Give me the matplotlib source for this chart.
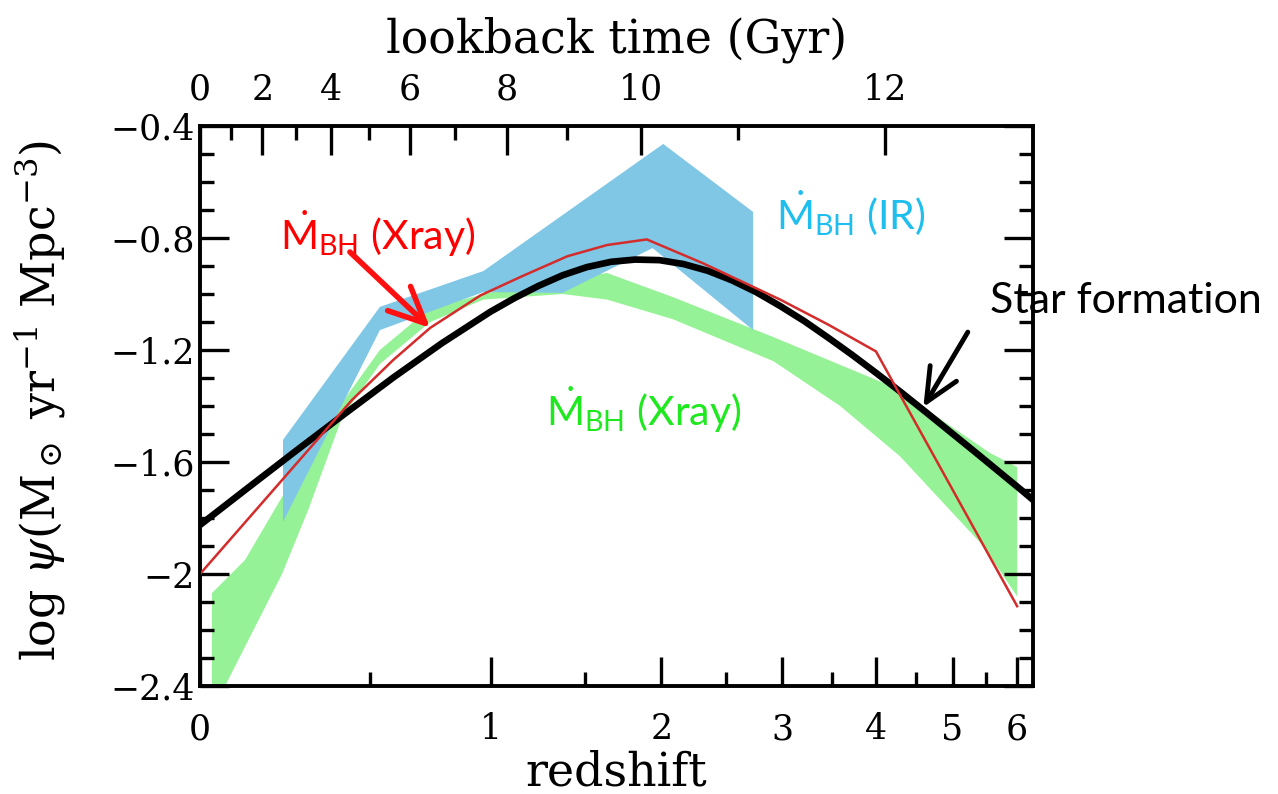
import numpy as np
import matplotlib.pyplot as plt
from matplotlib.ticker import FixedLocator, MultipleLocator

plt.rcParams['font.family'] = ['DejaVu Serif']
plt.rcParams['mathtext.fontset'] = 'custom'
plt.rcParams['mathtext.rm'] = 'DejaVu Serif'
plt.rcParams['mathtext.it'] = 'DejaVu Serif:italic'
plt.rcParams['mathtext.bf'] = 'DejaVu Serif:bold'
plt.rcParams['mathtext.sf'] = 'Lato'

# all x values are log10(1+z)
# cosmic star formation rate density
sf_x = [0.0, 0.05, 0.1, 0.15, 0.2, 0.25, 0.3, 0.325, 0.35, 0.375, 0.4, 0.425,
        0.45, 0.475, 0.5, 0.525, 0.55, 0.575, 0.6, 0.625, 0.65, 0.675, 0.7,
        0.725, 0.75, 0.775, 0.8, 0.825, 0.85, 0.862]
sf_y = [-1.825, -1.691, -1.558, -1.427, -1.298, -1.176, -1.064, -1.015, -0.971,
        -0.933, -0.904, -0.885, -0.877, -0.879, -0.893, -0.917, -0.951, -0.993,
        -1.043, -1.097, -1.157, -1.219, -1.284, -1.351, -1.420, -1.490, -1.560,
        -1.631, -1.702, -1.737]

# BH accretion rate, X-ray (line)
xr_x = [0.0, 0.157, 0.20, 0.238, 0.29, 0.334, 0.38, 0.421, 0.462, 0.52, 0.60,
        0.65, 0.699, 0.845]
xr_y = [-2.0, -1.379, -1.235, -1.121, -1.005, -0.935, -0.865, -0.825, -0.805,
        -0.89, -1.02, -1.11, -1.205, -2.115]

# BH accretion rate, IR (band)
ir_up_x = [0.0858, 0.186, 0.293, 0.479, 0.572]
ir_up_y = [-1.521, -1.046, -0.918, -0.464, -0.707]
ir_lo_x = [0.0858, 0.186, 0.293, 0.375, 0.468, 0.572]
ir_lo_y = [-1.814, -1.129, -0.993, -0.996, -0.836, -1.129]

# BH accretion rate, X-ray (band)
xb_up_x = [0.0124, 0.0465, 0.0848, 0.134, 0.186, 0.238, 0.310, 0.372, 0.421,
           0.489, 0.593, 0.717, 0.817, 0.845]
xb_up_y = [-2.068, -1.950, -1.725, -1.450, -1.200, -1.050, -0.986, -0.950,
           -0.925, -1.011, -1.154, -1.332, -1.568, -1.618]
xb_lo_x = [0.0124, 0.0259, 0.0538, 0.0848, 0.112, 0.147, 0.186, 0.238, 0.293,
           0.375, 0.421, 0.489, 0.593, 0.662, 0.724, 0.810, 0.845]
xb_lo_y = [-2.47, -2.40, -2.21, -2.00, -1.77, -1.44, -1.25, -1.10, -1.02,
           -1.00, -1.02, -1.09, -1.24, -1.40, -1.58, -1.90, -2.08]

z_major = [0, 1, 2, 3, 4, 5, 6]
z_minor = [0.5, 1.5, 2.5, 3.5, 4.5, 5.5]
t_major = [0, 2, 4, 6, 8, 10, 12]
t_minor = [1, 3, 5, 7, 9, 11]
y_ticks = [-2.4, -2.0, -1.6, -1.2, -0.8, -0.4]
y_labels = ['\u22122.4', '\u22122', '\u22121.6', '\u22121.2', '\u22120.8', '\u22120.4']


# lookback time (Gyr) -> log10(1+z), flat LCDM with H0=70, Om=0.3
def t_to_pos(t):
    zg = np.linspace(0, 30, 30001)
    f = 1.0 / ((1 + zg) * np.sqrt(0.3 * (1 + zg)**3 + 0.7))
    tl = np.concatenate(([0], np.cumsum(0.5 * (f[1:] + f[:-1]) * np.diff(zg))))
    tl = tl * 977.8 / 70.0
    return np.log10(1 + np.interp(t, tl, zg))


def z_to_pos(z):
    return np.log10(1 + np.asarray(z, dtype=float))


fig = plt.figure(figsize=(12.78, 7.94), dpi=100)
ax = fig.add_axes([0.1565, 0.136, 0.6518, 0.7053])

ax.fill(xb_up_x + xb_lo_x[::-1], xb_up_y + xb_lo_y[::-1], color='#96f296', lw=0, zorder=1)
ax.fill(ir_up_x + ir_lo_x[::-1], ir_up_y + ir_lo_y[::-1], color='#80c7e6', lw=0, zorder=2)
ax.plot(sf_x, sf_y, color='black', lw=4.8, zorder=3, solid_capstyle='butt')
ax.plot(xr_x, xr_y, color='#d42b2b', lw=1.8, zorder=4)

ax.set_xlim(0, 0.8614)
ax.set_ylim(-2.4, -0.4)

ax.xaxis.set_major_locator(FixedLocator(z_to_pos(z_major)))
ax.xaxis.set_minor_locator(FixedLocator(z_to_pos(z_minor)))
ax.set_xticklabels([str(z) for z in z_major])
ax.set_yticks(y_ticks)
ax.set_yticklabels(y_labels)
ax.yaxis.set_minor_locator(MultipleLocator(0.1))

ax.tick_params(which='both', direction='in', width=2.4, top=False,
               left=True, right=True, labelsize=25)
ax.tick_params(which='major', length=21)
ax.tick_params(which='minor', length=10)
ax.tick_params(axis='x', pad=19)
ax.tick_params(axis='y', pad=4)
for s in ax.spines.values():
    s.set_linewidth(2.8)

ax2 = ax.twiny()
ax2.set_xlim(ax.get_xlim())
ax2.xaxis.set_major_locator(FixedLocator(t_to_pos(t_major)))
ax2.xaxis.set_minor_locator(FixedLocator(t_to_pos(t_minor)))
ax2.set_xticklabels([str(t) for t in t_major])
ax2.tick_params(which='both', direction='in', width=2.4, labelsize=25, pad=14)
ax2.tick_params(which='major', length=21)
ax2.tick_params(which='minor', length=10)

ax.set_xlabel('redshift', fontsize=33)
ax.xaxis.set_label_coords(0.5, -0.115)
ax2.set_xlabel('lookback time (Gyr)', fontsize=33)
ax2.xaxis.set_label_coords(0.5, 1.132)
ax.set_ylabel(r'log $\psi$(M$_\odot$ yr$^{-1}$ Mpc$^{-3}$)', fontsize=33)
ax.yaxis.set_label_coords(-0.158, 0.51)

# annotations
ax.text(0.0827, -0.843, r'$\dot{\mathsf{M}}_{\mathsf{BH}}$ (Xray)', color='#ff0000',
        fontsize=29.5, family='Lato', va='baseline', zorder=6)
ax.text(0.596, -0.771, r'$\dot{\mathsf{M}}_{\mathsf{BH}}$ (IR)', color='#1ebfee',
        fontsize=29.5, family='Lato', va='baseline', zorder=6)
ax.text(0.358, -1.47, r'$\dot{\mathsf{M}}_{\mathsf{BH}}$ (Xray)', color='#1ee81e',
        fontsize=29.5, family='Lato', va='baseline', zorder=6)
ax.text(0.817, -1.068, 'Star formation', color='black', fontsize=31,
        family='Lato', va='baseline', zorder=6)

ax.annotate('', xy=(0.238, -1.121), xytext=(0.155, -0.85),
            arrowprops=dict(arrowstyle='->,head_length=1.3,head_width=0.6',
                            color='#ff1010', lw=4, mutation_scale=20,
                            shrinkA=0, shrinkB=0), zorder=6)
ax.annotate('', xy=(0.748, -1.404), xytext=(0.794, -1.136),
            arrowprops=dict(arrowstyle='->,head_length=1.2,head_width=0.55',
                            color='black', lw=3.5, mutation_scale=20,
                            shrinkA=0, shrinkB=0), zorder=6, annotation_clip=False)

fig.savefig('out.png', dpi=100)
